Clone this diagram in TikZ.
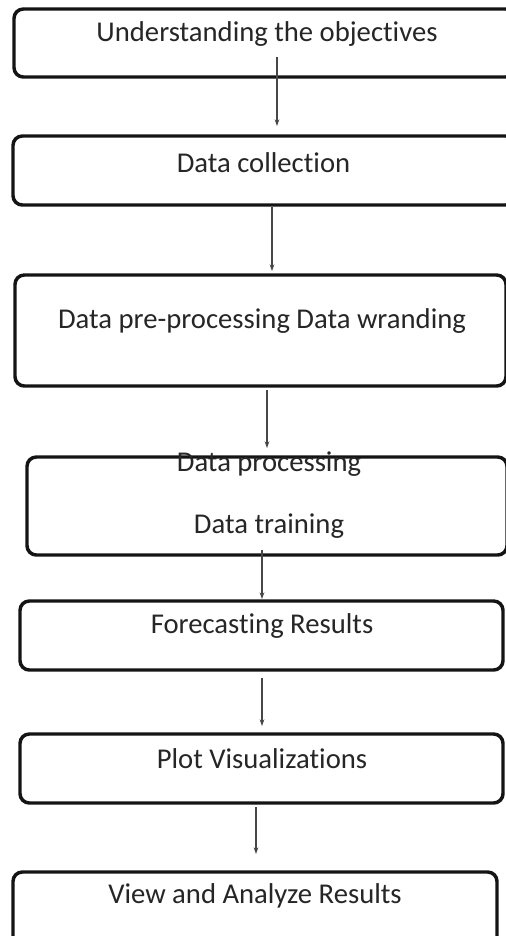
\documentclass[tikz,border=0pt]{standalone}
\usepackage{fontspec}
\setmainfont[Ligatures={NoCommon}]{Carlito}
\usetikzlibrary{arrows.meta}
\tikzset{
  bx/.style={draw=black!92, line width=2.6pt, rounded corners=7pt, fill=white, inner sep=0pt},
  lbl/.style={text=black!85, font=\fontsize{21.5pt}{24pt}\selectfont, inner sep=0pt, anchor=center},
  conn/.style={draw=black!72, line width=0.8pt, -{Stealth[length=5pt,width=3.5pt]}}
}
\newcommand\mybox[5]{\node[bx, minimum width={#4*0.75pt}, minimum height={#5*0.75pt}] (#1) at (#2,#3) {};}
\begin{document}
\begin{tikzpicture}[x=0.75pt,y=-0.75pt]
\clip (0,0) rectangle (506,936);
\fill[white] (0,0) rectangle (506,936);
% boxes
\mybox{b1}{264.5}{43}{501}{68}
\mybox{b2}{264}{170.5}{502}{69}
\mybox{b3}{260.5}{330.5}{491}{111}
\mybox{b4}{267}{506}{480}{98}
\mybox{b5}{261.5}{635.5}{483}{69}
\mybox{b6}{261.5}{768.5}{483}{69}
\mybox{b7}{255}{910}{484}{76}
% texts
\node[lbl] (t1) at (267,34) {Understanding the objectives};
\node[lbl] (t2) at (263.5,163) {Data collection};
\node[lbl] (t3) at (262,321) {Data pre-processing Data wranding};
\node[lbl] (t4a) at (269,464) {Data processing};
\node[lbl] (t4b) at (269,526) {Data training};
\node[lbl] (t5) at (262,626) {Forecasting Results};
\node[lbl] (t6) at (262,759) {Plot Visualizations};
\node[lbl] (t7) at (255,896) {View and Analyze Results};
% connector ends
\coordinate (s1) at (277,57);  \coordinate (e1) at (277,126);
\coordinate (s2) at (272,207); \coordinate (e2) at (272,271);
\coordinate (s3) at (267,390); \coordinate (e3) at (267,448);
\coordinate (s4) at (262,550); \coordinate (e4) at (262,599);
\coordinate (s5) at (262,678); \coordinate (e5) at (262,726);
\coordinate (s6) at (256,807); \coordinate (e6) at (256,854);
\draw[conn] (s1) -- (e1);
\draw[conn] (s2) -- (e2);
\draw[conn] (s3) -- (e3);
\draw[conn] (s4) -- (e4);
\draw[conn] (s5) -- (e5);
\draw[conn] (s6) -- (e6);
\end{tikzpicture}
\end{document}
